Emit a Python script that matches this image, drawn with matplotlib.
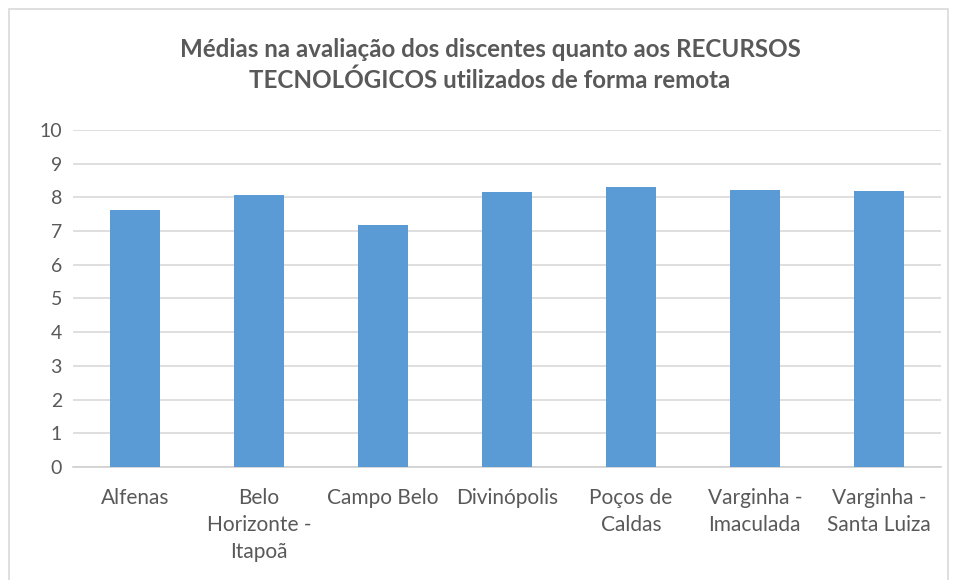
import matplotlib.pyplot as plt
from matplotlib.patches import Rectangle

# data
campi = ["Alfenas", "Belo\nHorizonte -\nItapoã", "Campo Belo", "Divinópolis",
         "Poços de\nCaldas", "Varginha -\nImaculada", "Varginha -\nSanta Luiza"]
medias = [7.64, 8.07, 7.17, 8.16, 8.30, 8.23, 8.20]
yticks = list(range(0, 11))

plt.rcParams['font.family'] = ['Lato', 'DejaVu Sans']

fig = plt.figure(figsize=(9.57, 5.8), dpi=100)
ax = fig.add_axes([0.0763, 0.1948, 0.9067, 0.5811])

x = range(len(campi))
ax.bar(x, medias, width=0.4, color='#5b9bd5', zorder=3)

ax.set_xlim(-0.5, len(campi) - 0.5)
ax.set_ylim(0, 10)
ax.set_yticks(yticks)
ax.set_xticks(list(x))
ax.set_xticklabels(campi, fontsize=15, color='#595959', linespacing=1.45, va='top')
ax.tick_params(axis='y', labelsize=14, labelcolor='#595959', length=0, pad=8)
ax.tick_params(axis='x', length=0, pad=15)

ax.grid(axis='y', color='#d9d9d9', linewidth=1.2, zorder=0)
for s in ['top', 'right', 'left']:
    ax.spines[s].set_visible(False)
ax.spines['bottom'].set_color('#d0d0d0')
ax.spines['bottom'].set_linewidth(1.2)

fig.text(0.512, 0.888, "Médias na avaliação dos discentes quanto aos RECURSOS\nTECNOLÓGICOS utilizados de forma remota",
         ha='center', va='center', fontsize=17.4, fontweight='bold', color='#595959', linespacing=1.4)

# chart border
fig.patches.append(Rectangle((9 / 957, -0.01), 939 / 957, 1 - 9 / 580 + 0.01,
                             transform=fig.transFigure, fill=False,
                             edgecolor='#d9d9d9', linewidth=1.2))

fig.savefig("out.png", dpi=100)
